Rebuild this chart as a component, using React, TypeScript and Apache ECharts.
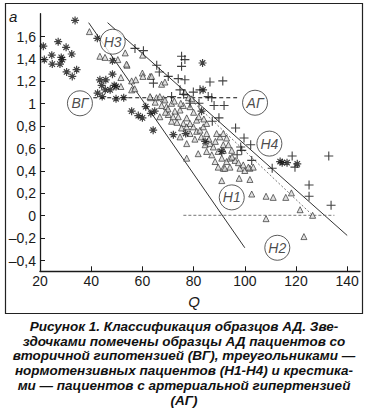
import React, { useEffect, useRef } from "react";
import * as echarts from "echarts";

// ВГ — secondary hypotension (stars)
const starsVG: number[][] = [
  [33.7, 1.74], [21.3, 1.51], [24.6, 1.43], [27.1, 1.55], [30.2, 1.5], [32.4, 1.44],
  [21.7, 1.39], [24.8, 1.35], [27.8, 1.35], [28.7, 1.39], [28.3, 1.41], [30.4, 1.28],
  [32.6, 1.24], [34.3, 1.3], [42.4, 1.58], [48.3, 1.38], [43.4, 1.21], [45.7, 1.21],
  [48.3, 1.26], [44.1, 1.16], [49, 1.16], [49.7, 1.15], [45.5, 1.12], [47.4, 1.12],
  [42.5, 1.09], [44.3, 1.06], [49.7, 1.04], [52.7, 1.05], [55.8, 0.93], [58.4, 0.89],
  [60, 0.87], [61.3, 0.97], [63.3, 0.91], [64.8, 0.93], [64.2, 0.76], [72.1, 0.72],
  [76.9, 0.73], [83.1, 0.93], [83.7, 1.12], [83.5, 1.36], [84.5, 0.66], [91, 0.57],
  [113.8, 0.48], [116.5, 0.47], [120.5, 0.46], [114.6, 0.47],
];

// Н1–Н4 — normotensive (triangles)
const trianglesN: number[][] = [
  [39.3, 1.64], [43.4, 1.42], [45.4, 1.41], [50.4, 1.39], [53.3, 1.45], [54, 1.34],
  [51.6, 1.23], [55.8, 1.2], [57.4, 1.21], [60, 1.27], [60.2, 1.24], [63, 1.24],
  [60.1, 1.43], [63.6, 1.24], [67.5, 1.17], [68.8, 1.19], [63.2, 1.05], [65.5, 1.05],
  [68.2, 1.04], [76.6, 1.1], [78, 1.05], [79.3, 1.04], [63, 1.06], [65, 1.01],
  [66.8, 1.06], [68.8, 1.03], [67.5, 0.98], [69.4, 0.97], [71.4, 1.0], [72.7, 0.93],
  [70.1, 0.9], [66.8, 0.88], [74, 0.88], [71.4, 0.84], [76, 0.82], [77.3, 0.87],
  [78.6, 0.97], [75.3, 0.78], [77.3, 0.79], [78.6, 0.73], [79.9, 0.79], [81.2, 0.75],
  [82.5, 0.76], [83.8, 0.79], [85.1, 0.73], [78.6, 0.82], [74.7, 0.7], [77.3, 0.64],
  [81.8, 0.55], [77.3, 0.51], [84.5, 0.63], [86.4, 0.64], [87.7, 0.61], [85.1, 0.57],
  [87.1, 0.54], [89.6, 0.57], [91, 0.51], [88.4, 0.48], [91.6, 0.42], [92.9, 0.48],
  [90.3, 0.7], [91.6, 0.73], [91.6, 0.63], [81.2, 0.85], [85.1, 0.82], [74.7, 0.94],
  [76, 0.98], [91, 0.31], [97.8, 0.33], [102, 0.32], [102.7, 0.19], [108.3, 0.17],
  [111.1, 0.16], [116, 0.16], [118.2, 0.2], [121.6, 0.05], [126.5, 0.0], [108.3, -0.03],
  [123.1, -0.19], [89.6, 0.43], [92.2, 0.42], [94.2, 0.43], [98.1, 0.42], [100, 0.4],
  [102, 0.42], [103.3, 0.43], [92.9, 0.69], [93.6, 0.63], [94.9, 0.58], [91.6, 0.58],
  [94.2, 0.51], [96.2, 0.49], [97.5, 0.47], [99.4, 0.45], [101.4, 0.43], [53.8, 1.35],
  [55.8, 1.12], [57, 1.13], [51.6, 1.15], [70, 0.95], [72, 0.88], [73.5, 0.83],
  [69, 0.92], [80.5, 0.68], [83, 0.7], [86, 0.68], [88.5, 0.66], [89, 0.73], [95, 0.52],
  [80, 0.92], [82, 0.88], [84, 0.86], [72.5, 1.02], [75, 1.0],
];

// АГ — arterial hypertension (crosses)
const crossesAG: number[][] = [
  [57.1, 1.49], [60.4, 1.47], [65.6, 1.34], [66.6, 1.28], [75.3, 1.42], [76.6, 1.39],
  [75.3, 1.33], [70.1, 1.24], [74, 1.22], [76.6, 1.21], [64.3, 1.18], [86.4, 1.19],
  [91.4, 1.2], [74.7, 1.12], [79.9, 1.1], [71.4, 1.06], [87.1, 1.05], [76.1, 1.08],
  [82.1, 1.0], [88, 0.98], [91.9, 0.98], [87.3, 0.84], [89.9, 0.87], [96.4, 0.78],
  [99.7, 0.69], [102.3, 0.63], [98.4, 0.61], [98.8, 0.58], [102.7, 0.49], [97, 0.54],
  [110.7, 0.42], [118.5, 0.53], [132.8, 0.53], [119.6, 0.43], [125.1, 0.27],
  [125.1, 0.17], [133.7, 0.09], [82.5, 1.12], [85.7, 1.06], [78.6, 1.0],
];

// Class boundaries
const boundaryLeft: number[][] = [[39, 1.72], [100, -0.29]];
const boundaryRight: number[][] = [[46.4, 1.72], [140, -0.18]];
const dashVG: number[][] = [[40.8, 1.05], [97, 1.05]];
const dashN: number[][] = [[78, 1.05], [126.5, 0.0]];
const dashZero: number[][] = [[76, 0], [135, 0]];

// Region labels
const regionNames = ["ВГ", "Н3", "АГ", "Н4", "Н1", "Н2"];
const regionPos: number[][] = [
  [35.6, 1.0], [48.4, 1.55], [104, 1.005], [109.6, 0.64], [94.9, 0.16], [112.7, -0.29],
];

const caption = [
  "Рисунок 1. Классификация образцов АД. Зве-",
  "здочками помечены образцы АД пациентов со",
  "вторичной гипотензией (ВГ), треугольниками —",
  "нормотензивных пациентов (Н1-Н4) и крестика-",
  "ми — пациентов с артериальной гипертензией",
  "(АГ)",
];

const FONT = '"Liberation Sans", Arial, sans-serif';

const plusPath = "path://M0,5L10,5M5,0L5,10";
const starPath = "path://M0,5L10,5M5,0L5,10M1.6,1.6L8.4,8.4M8.4,1.6L1.6,8.4";

const fmtY = (v: number) => {
  const r = Math.round(v * 10) / 10;
  if (Math.abs(r) < 1e-9) return "0";
  let s = Math.abs(r).toFixed(1).replace(".", ",");
  if (s.endsWith(",0")) s = s.slice(0, -2);
  return (r < 0 ? "–" : "") + s;
};

export default function App() {
  const ref = useRef<HTMLDivElement>(null);
  useEffect(() => {
    if (!ref.current) return;
    const chart = echarts.init(ref.current, undefined, { renderer: "svg" });
    const lineSeries = (data: number[][], color: string, type: any, width: number) => ({
      type: "line",
      data,
      xAxisIndex: 0,
      yAxisIndex: 0,
      symbol: "none",
      silent: true,
      z: 1,
      lineStyle: { color, width, type },
    });
    chart.setOption({
      animation: false,
      backgroundColor: "#fff",
      grid: [
        { left: 40, width: 320, top: 13.7, height: 257.6 },
        { left: 40, width: 320, top: 36.5, height: 224 },
      ],
      xAxis: [
        {
          type: "value",
          gridIndex: 0,
          min: 20,
          max: 145,
          interval: 20,
          axisLine: { onZero: false, lineStyle: { color: "#1a1a1a", width: 1.3 } },
          axisTick: { inside: true, length: 5, lineStyle: { color: "#1a1a1a" } },
          axisLabel: { color: "#1a1a1a", fontSize: 14, fontFamily: FONT, margin: 3 },
          splitLine: { show: false },
        },
        { type: "value", gridIndex: 1, min: 20, max: 145, show: false },
      ],
      yAxis: [
        {
          type: "value",
          gridIndex: 0,
          min: -0.5,
          max: 1.8,
          axisLine: { show: true, onZero: false, lineStyle: { color: "#1a1a1a", width: 1.3 } },
          axisTick: { show: false },
          axisLabel: { show: false },
          splitLine: { show: false },
        },
        {
          type: "value",
          gridIndex: 1,
          min: -0.4,
          max: 1.6,
          interval: 0.2,
          axisLine: { show: false, onZero: false },
          axisTick: { show: true, inside: true, length: 5, lineStyle: { color: "#1a1a1a" } },
          axisLabel: {
            color: "#1a1a1a",
            fontSize: 14,
            fontFamily: FONT,
            margin: 4,
            formatter: fmtY,
          },
          splitLine: { show: false },
        },
      ],
      series: [
        lineSeries(boundaryLeft, "#333", "solid", 1),
        lineSeries(boundaryRight, "#333", "solid", 1),
        lineSeries(dashVG, "#111", [4, 3], 1.1),
        lineSeries(dashN, "#666", [2, 2], 0.9),
        lineSeries(dashZero, "#666", [3, 2], 0.9),
        {
          type: "scatter",
          data: trianglesN,
          symbol: "triangle",
          symbolSize: 6,
          z: 2,
          itemStyle: { color: "#d8d8d8", borderColor: "#333", borderWidth: 0.9 },
        },
        {
          type: "scatter",
          data: starsVG,
          symbol: starPath,
          symbolSize: 8,
          z: 3,
          itemStyle: { color: "transparent", borderColor: "#111", borderWidth: 1.2 },
        },
        {
          type: "scatter",
          data: crossesAG,
          symbol: plusPath,
          symbolSize: 9,
          z: 3,
          itemStyle: { color: "transparent", borderColor: "#111", borderWidth: 1.1 },
        },
        {
          type: "scatter",
          data: regionPos.map((p, i) => ({ name: regionNames[i], value: p })),
          symbol: "circle",
          symbolSize: 25,
          z: 5,
          itemStyle: { color: "#fff", borderColor: "#333", borderWidth: 1 },
          label: {
            show: true,
            position: "inside",
            formatter: "{b}",
            color: "#1a1a1a",
            fontSize: 14,
            fontStyle: "italic",
            fontFamily: FONT,
          },
        },
      ],
      graphic: [
        {
          type: "rect",
          shape: { x: 5.5, y: 3.5, width: 357, height: 310 },
          style: { fill: "none", stroke: "#222", lineWidth: 1.2 },
          silent: true,
        },
        {
          type: "text",
          x: 9,
          y: 9,
          style: { text: "a", fontSize: 15, fontStyle: "italic", fontFamily: FONT, fill: "#1a1a1a" },
        },
        {
          type: "text",
          x: 194,
          y: 294,
          style: {
            text: "Q",
            fontSize: 15,
            fontStyle: "italic",
            fontFamily: FONT,
            fill: "#1a1a1a",
            textAlign: "center",
          },
        },
        ...caption.map((t, i) => ({
          type: "text",
          x: 184,
          y: 319.5 + i * 14.7,
          style: {
            text: t,
            fontSize: 13.5,
            fontStyle: "italic",
            fontWeight: "bold",
            fontFamily: FONT,
            fill: "#111",
            textAlign: "center",
          },
        })),
      ],
    });
    return () => chart.dispose();
  }, []);
  return (
    <div
      ref={ref}
      style={{ position: "absolute", left: 0, top: 0, width: 368, height: 417, background: "#fff" }}
    />
  );
}
